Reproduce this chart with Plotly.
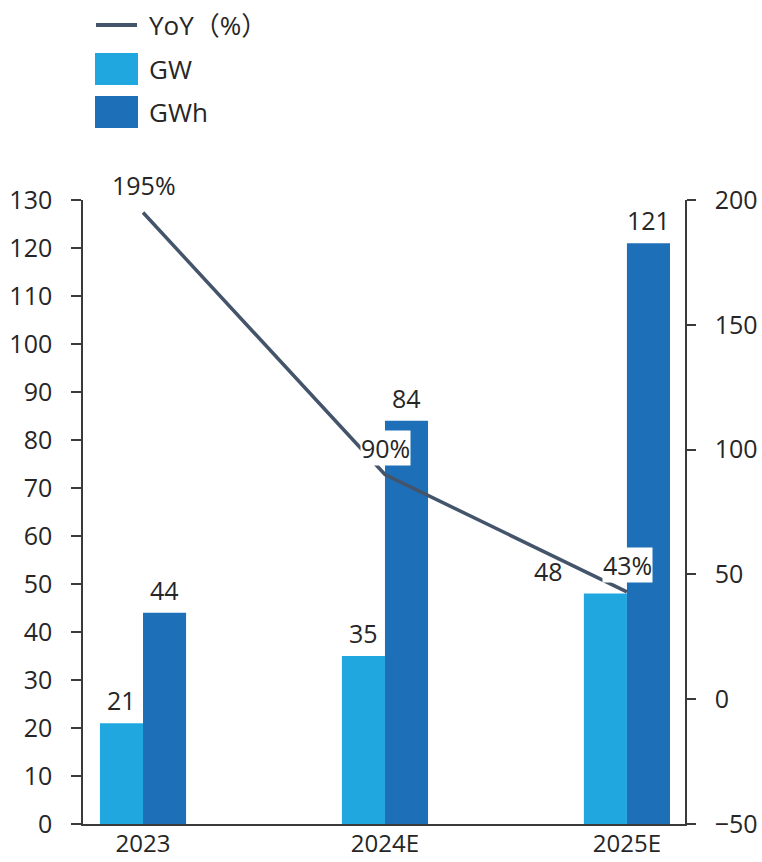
import plotly.graph_objects as go

# Shipments by year (bars on left axis) and year-on-year growth (line on right axis)
years = ["2023", "2024E", "2025E"]
gw_values = [21, 35, 48]
gwh_values = [44, 84, 121]
yoy_values = [195, 90, 43]

left_ticks = list(range(0, 131, 10))
right_ticks = list(range(-50, 201, 50))

FONT = "Open Sans, Noto Sans CJK SC, sans-serif"
TEXT = "#262626"
AXIS = "#3a3a3a"
C_GW = "#21A7DF"
C_GWH = "#1D6FB8"
C_YOY = "#44546A"

W, H = 762, 862
ML, MR, MT, MB = 83, 77, 200, 38
PW, PH = W - ML - MR, H - MT - MB


def px_x(px):
    return (px - ML) / PW


def px_y(py):
    return (H - MB - py) / PH


fig = go.Figure()
fig.add_trace(go.Bar(x=years, y=gw_values, name="GW", marker_color=C_GW,
                     marker_line_width=0, showlegend=False))
fig.add_trace(go.Bar(x=years, y=gwh_values, name="GWh", marker_color=C_GWH,
                     marker_line_width=0, showlegend=False))
fig.add_trace(go.Scatter(x=years, y=yoy_values, name="YoY（%）", yaxis="y2",
                         mode="lines", line=dict(color=C_YOY, width=3.5),
                         showlegend=False))

annotations = []
# value labels above bars (category axis positions given by index);
# the last GW label is nudged left so it clears the growth label box
gw_label_dx = {2: -57}
for i, v in enumerate(gw_values):
    annotations.append(dict(x=i, y=v, xref="x", yref="y", text=str(v),
                            showarrow=False, xshift=-21.5 + gw_label_dx.get(i, 0),
                            yshift=23, yanchor="middle",
                            font=dict(size=25, color=TEXT, family=FONT)))
for i, v in enumerate(gwh_values):
    annotations.append(dict(x=i, y=v, xref="x", yref="y", text=str(v),
                            showarrow=False, xshift=21.5, yshift=23,
                            yanchor="middle", font=dict(size=25, color=TEXT, family=FONT)))
# growth labels with white boxes
for i, v in enumerate(yoy_values):
    annotations.append(dict(x=i, y=v, xref="x", yref="y2", text=f"{v}%",
                            showarrow=False, yshift=27, xshift=1, yanchor="middle",
                            bgcolor="white", borderpad=0,
                            font=dict(size=25, color=TEXT, family=FONT)))

# legend drawn at the top-left
legend_items = [("YoY（%）", 25), ("GW", 69), ("GWh", 112)]
for label, cy in legend_items:
    annotations.append(dict(x=px_x(147), y=px_y(cy), xref="paper", yref="paper",
                            text=label, showarrow=False, xanchor="left",
                            yanchor="middle",
                            font=dict(size=26, color=TEXT, family=FONT)))

shapes = [
    dict(type="line", xref="paper", yref="paper", x0=px_x(96), x1=px_x(137),
         y0=px_y(25), y1=px_y(25), line=dict(color=C_YOY, width=4)),
    dict(type="rect", xref="paper", yref="paper", x0=px_x(95), x1=px_x(138),
         y0=px_y(85), y1=px_y(53), line_width=0, fillcolor=C_GW),
    dict(type="rect", xref="paper", yref="paper", x0=px_x(95), x1=px_x(138),
         y0=px_y(128), y1=px_y(96), line_width=0, fillcolor=C_GWH),
]

fig.update_layout(
    width=W, height=H,
    margin=dict(l=ML, r=MR, t=MT, b=MB, pad=0, autoexpand=False),
    paper_bgcolor="white", plot_bgcolor="white",
    barmode="group", bargap=0.644, bargroupgap=0,
    font=dict(family=FONT, size=25, color=TEXT),
    showlegend=False,
    annotations=annotations,
    shapes=shapes,
    xaxis=dict(type="category", range=[-0.248, 2.24], showgrid=False,
               showline=True, linecolor=AXIS, linewidth=1.5, ticks="",
               tickfont=dict(size=24, color=TEXT), ticklabelstandoff=-3,
               zeroline=False, automargin=False),
    yaxis=dict(range=[0, 130], tickvals=left_ticks, showgrid=False,
               showline=True, linecolor=AXIS, linewidth=1.5,
               ticks="outside", ticklen=10, tickwidth=1.5, tickcolor=AXIS,
               tickfont=dict(size=25, color=TEXT), ticklabelstandoff=14,
               zeroline=False, automargin=False),
    yaxis2=dict(range=[-50, 200], tickvals=right_ticks, overlaying="y",
                side="right", showgrid=False, showline=True, linecolor=AXIS,
                linewidth=1.5, ticks="outside", ticklen=9, tickwidth=1.5,
                tickcolor=AXIS, tickfont=dict(size=25, color=TEXT),
                ticklabelstandoff=14, zeroline=False, automargin=False),
)

fig.write_html("out.html")
